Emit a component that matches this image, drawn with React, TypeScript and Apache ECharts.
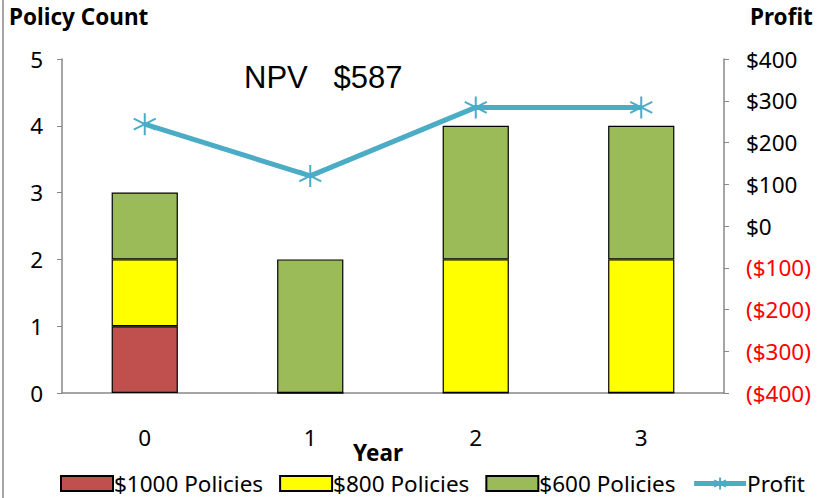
import React, { useEffect, useRef } from "react";
import * as echarts from "echarts";

const years = ["0", "1", "2", "3"];
const policies1000 = [1, 0, 0, 0];
const policies800 = [1, 0, 2, 2];
const policies600 = [1, 2, 2, 2];
const profit = [244, 120, 284, 284];
const npvText = "NPV   $587";
const xTitle = "Year";

const FONT = "'Noto Sans', sans-serif";
const FS = 22.5;
const star = "path://M0,-10L0,10M-8.7,-5L8.7,5M-8.7,5L8.7,-5";

export default function App() {
  const ref = useRef<HTMLDivElement>(null);
  useEffect(() => {
    const chart = echarts.init(ref.current!, null, { renderer: "svg" });
    const barStyle = (c: string) => ({ color: c, borderColor: "#000", borderWidth: 1.2 });
    chart.setOption({
      animation: false,
      textStyle: { fontFamily: FONT },
      grid: { left: 62, right: 106, top: 59, bottom: 105 },
      legend: {
        bottom: -2,
        left: 55,
        itemWidth: 52,
        itemHeight: 15,
        itemGap: 16,
        textStyle: { fontSize: FS, color: "#000", fontFamily: FONT, padding: [0, 0, 0, -4] },
        data: [
          { name: "$1000 Policies", icon: "rect" },
          { name: "$800 Policies", icon: "rect" },
          { name: "$600 Policies", icon: "rect" },
          { name: "Profit", lineStyle: { width: 5 } },
        ],
      },
      xAxis: {
        type: "category",
        data: years,
        boundaryGap: true,
        axisLine: { lineStyle: { color: "#888", width: 1.5 } },
        axisTick: { alignWithLabel: false, length: 6, inside: true, lineStyle: { color: "#888" } },
        axisLabel: { fontSize: FS, color: "#000", margin: 33 },
      },
      yAxis: [
        {
          type: "value",
          min: 0,
          max: 5,
          interval: 1,
          axisLine: { show: true, lineStyle: { color: "#888", width: 1.5 } },
          axisTick: { show: true, length: 5, lineStyle: { color: "#888" } },
          axisLabel: { fontSize: FS, color: "#000", margin: 19 },
          splitLine: { show: false },
        },
        {
          type: "value",
          min: -400,
          max: 400,
          interval: 100,
          position: "right",
          axisLine: { show: true, lineStyle: { color: "#888", width: 1.5 } },
          axisTick: { show: true, length: 5, lineStyle: { color: "#888" } },
          axisLabel: {
            fontSize: FS,
            margin: 22,
            formatter: (v: number) => (v < 0 ? `($${-v})` : `$${v}`),
            color: (v: any) => (Number(v) < 0 ? "#FF0000" : "#000"),
          },
          splitLine: { show: false },
        },
      ],
      series: [
        {
          name: "$1000 Policies",
          type: "bar",
          stack: "p",
          barWidth: "40%",
          data: policies1000,
          itemStyle: barStyle("#C0504D"),
        },
        {
          name: "$800 Policies",
          type: "bar",
          stack: "p",
          data: policies800,
          itemStyle: barStyle("#FFFF00"),
        },
        {
          name: "$600 Policies",
          type: "bar",
          stack: "p",
          data: policies600,
          itemStyle: barStyle("#9BBB59"),
        },
        {
          name: "Profit",
          type: "line",
          yAxisIndex: 1,
          data: profit,
          symbol: star,
          symbolSize: 22,
          lineStyle: { color: "#4BACC6", width: 5 },
          itemStyle: { color: "#4BACC6", borderColor: "#4BACC6", borderWidth: 2 },
        },
      ],
      graphic: [
        { type: "line", shape: { x1: 3, y1: 0, x2: 3, y2: 498 }, style: { stroke: "#888", lineWidth: 1.5 } },
        {
          type: "text",
          left: 9,
          top: 5,
          style: { text: "Policy Count", fontSize: FS, fontWeight: "bold", fill: "#000", fontFamily: FONT },
        },
        {
          type: "text",
          left: 750,
          top: 5,
          style: { text: "Profit", fontSize: FS, fontWeight: "bold", fill: "#000", fontFamily: FONT },
        },
        {
          type: "text",
          x: 378,
          y: 452,
          style: {
            text: xTitle,
            fontSize: FS,
            fontWeight: "bold",
            fill: "#000",
            fontFamily: FONT,
            align: "center",
            verticalAlign: "middle",
          },
        },
        {
          type: "text",
          left: 244,
          top: 62,
          style: { text: npvText, fontSize: 31, fill: "#000", fontFamily: "'Liberation Sans', Arial, sans-serif" },
        },
      ],
    });
    return () => chart.dispose();
  }, []);
  return (
    <div
      ref={ref}
      style={{ position: "fixed", left: 0, top: 0, width: 830, height: 498, background: "#fff" }}
    />
  );
}
